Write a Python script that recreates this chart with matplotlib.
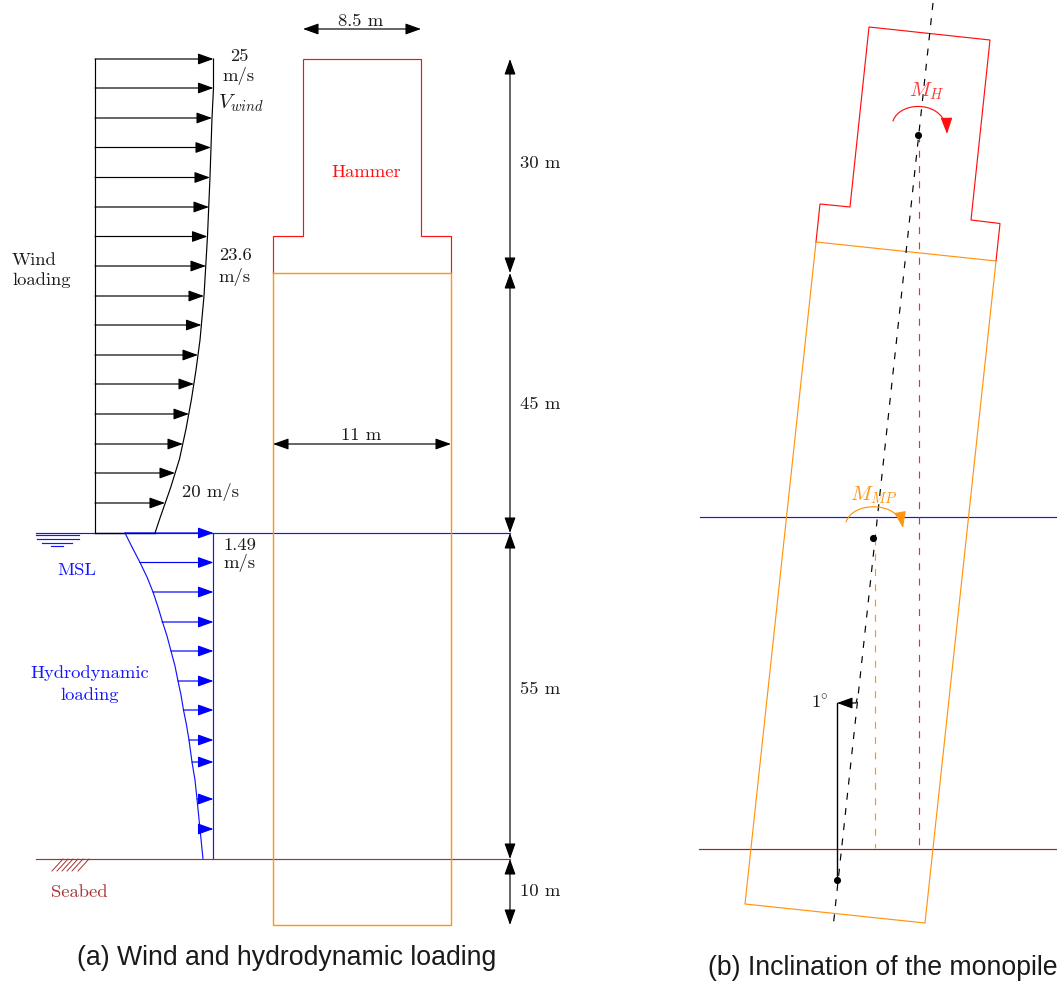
import matplotlib
matplotlib.use("Agg")
import matplotlib.pyplot as plt
from matplotlib.patches import FancyArrowPatch
from matplotlib.path import Path

plt.rcParams["font.family"] = "cmr10"
plt.rcParams["mathtext.fontset"] = "cm"
plt.rcParams["axes.formatter.use_mathtext"] = True
plt.rcParams["lines.scale_dashes"] = False

# everything below is in reference pixels, y going down
wind_y = [59, 88, 118, 147.5, 177.5, 207, 236.5, 266, 296, 325, 355, 384, 414, 444, 473, 503]
wind_x = [213.5, 213.5, 212, 211, 210, 209, 207.5, 206, 204, 201.5, 198, 194, 189, 183, 175, 165]
# profile outlines, also between the arrows
wind_curve_y = [59, 88, 118, 177, 236, 296, 340, 370, 399, 429, 459, 488, 518, 533]
wind_curve_x = [213.5, 213.5, 212, 210, 207.5, 204, 200, 196, 191.5, 186, 179.5, 170.5, 160, 155]

hydro_y = [533, 562.5, 592, 622, 651, 681, 710, 740, 762, 799, 829]
hydro_x = [125, 140, 153, 162, 171, 178, 183.5, 189, 192, 197, 200]
hydro_curve_y = [533, 547, 562.5, 577, 592, 607, 622, 636, 651, 666, 681, 695, 710, 725, 740, 762, 780, 799, 814, 829, 844, 859]
hydro_curve_x = [125, 132, 140, 147, 153, 158, 162.5, 167, 171, 175, 178, 181, 183.5, 186.5, 189, 192, 195, 197, 198.5, 200, 201.5, 203]

hammer_a = [(273, 273), (273, 236), (303, 236), (303, 59), (421, 59), (421, 236), (451, 236), (451, 273)]
pile_a = [(273, 273), (451, 273), (451, 925), (273, 925), (273, 273)]
hammer_b = [(816, 242), (820, 204), (850, 207), (869, 27), (990, 40), (971, 220), (1000, 223.5), (996, 261)]
pile_b = [(816, 242), (996, 261), (925, 923), (745, 904), (816, 242)]

dim_levels = [59, 273, 533, 859, 925]
dim_labels = ["30 m", "45 m", "55 m", "10 m"]
dim_label_y = [163, 404, 689, 891]

msl_lines = [(36, 79, 535), (37, 79, 539), (42, 72, 543), (51, 63, 546)]
hatch_x = [52, 57, 62, 67, 72, 78]

BLUE = "#1414ff"
BROWN = "#a83232"
ORANGE = "#ff9410"
RED = "#ff1010"
INK = "#1a1a1a"

fig = plt.figure(figsize=(10.57, 9.83), dpi=100)
ax = fig.add_axes([0, 0, 1, 1])
ax.set_xlim(0, 1057)
ax.set_ylim(983, 0)
ax.axis("off")


def line(pts, color="black", lw=0.85, **kw):
    ax.plot([p[0] for p in pts], [p[1] for p in pts], color=color, lw=lw, solid_joinstyle="miter", **kw)


def arrow(a, b, color="black", style="-|>", hl=9.5, hw=3.4, lw=0.85, z=3):
    st = f"{style},head_length={hl},head_width={hw}"
    ax.add_patch(FancyArrowPatch(a, b, arrowstyle=st, mutation_scale=1, shrinkA=0, shrinkB=0,
                                 color=color, lw=lw, zorder=z))


def curved(pts, color):
    codes = [Path.MOVETO, Path.CURVE4, Path.CURVE4, Path.CURVE4]
    st = "-|>,head_length=10,head_width=3.6"
    ax.add_patch(FancyArrowPatch(path=Path(pts, codes), arrowstyle=st, mutation_scale=1,
                                 color=color, lw=0.85, zorder=3))


def label(x, y, s, color=INK, size=13.4, ha="center", ls=1.35):
    ax.text(x, y, s, color=color, fontsize=size, ha=ha, va="center", linespacing=ls)


# panel a, wind
line([(95, 59), (95, 533)])
line(list(zip(wind_curve_x, wind_curve_y)))
for x, y in zip(wind_x, wind_y):
    arrow((95, y), (x, y))

# water and seabed
line([(36, 533), (510, 533)], color=BLUE)
line([(95, 533), (155, 533)], lw=1.0)
for x0, x1, y in msl_lines:
    line([(x0, y), (x1, y)], color=BLUE)
line(list(zip(hydro_curve_x, hydro_curve_y)), color=BLUE)
line([(213, 533), (213, 859)], color=BLUE)
for x, y in zip(hydro_x, hydro_y):
    arrow((x, y), (213.5, y), color="#0000ff")
line([(36, 859), (510, 859)], color=BROWN)
for x in hatch_x:
    line([(x, 871), (x + 11, 859)], color=BROWN, lw=0.7)

# structure
line(hammer_a, color=RED)
line(pile_a, color=ORANGE, lw=1.0)

# dimensions
arrow((303, 29), (421, 29), style="<|-|>")
arrow((273, 444), (451, 444), style="<|-|>")
for i in range(len(dim_labels)):
    arrow((510, dim_levels[i]), (510, dim_levels[i + 1]), style="<|-|>")
    label(540, dim_label_y[i], dim_labels[i])
label(361, 21, "8.5 m")
label(361, 435, "11 m")

label(366, 172, "Hammer", color=RED)
label(239, 67, "25\nm/s", ls=1.22)
label(241, 103, r"$V_{wind}$", size=15)
label(235, 267, "23.6\nm/s")
label(12, 270, "Wind\nloading", ha="left")
label(211, 492, "20 m/s")
label(240, 555, "1.49\nm/s", ls=1.1)
label(77, 570, "MSL", color=BLUE)
label(90, 684, "Hydrodynamic\nloading", color=BLUE, ls=1.42)
label(79, 892, "Seabed", color=BROWN)

# panel b
line([(700, 517), (1057, 517)], color=BLUE)
line([(699, 849), (1057, 849)], color="#a52020")
line(hammer_b, color=RED)
line(pile_b, color=ORANGE)
line([(933, 3), (833, 928)], ls=(0, (5, 6)))
line([(919, 135), (919, 848)], color="#d8304a", ls=(0, (5, 6)))
line([(875, 538), (875, 848)], color=ORANGE, ls=(0, (5, 6)))
line([(837, 880), (837, 703)], lw=1.0)
line([(857, 699), (856, 703), (845, 703)], lw=0.85)
arrow((852, 703), (837, 703))
ax.scatter([918, 873, 837], [135, 538, 880], s=26, color="black", zorder=4, linewidths=0)
curved([(893, 121), (900, 100), (946, 100), (947, 134)], RED)
curved([(846, 522), (853, 501), (898, 501), (903, 528)], ORANGE)
label(927, 91, r"$M_H$", color="#ff3a3a", size=15)
label(874, 495, r"$M_{MP}$", color=ORANGE, size=15)
label(820, 702, r"$1\!^\circ$", size=13.4)

# captions
ax.text(287, 958, "(a) Wind and hydrodynamic loading", family="Liberation Sans", fontsize=19.2,
        color=INK, ha="center", va="center")
ax.text(883, 968, "(b) Inclination of the monopile", family="Liberation Sans", fontsize=19.2,
        color=INK, ha="center", va="center")

fig.savefig("out.png", dpi=100)
